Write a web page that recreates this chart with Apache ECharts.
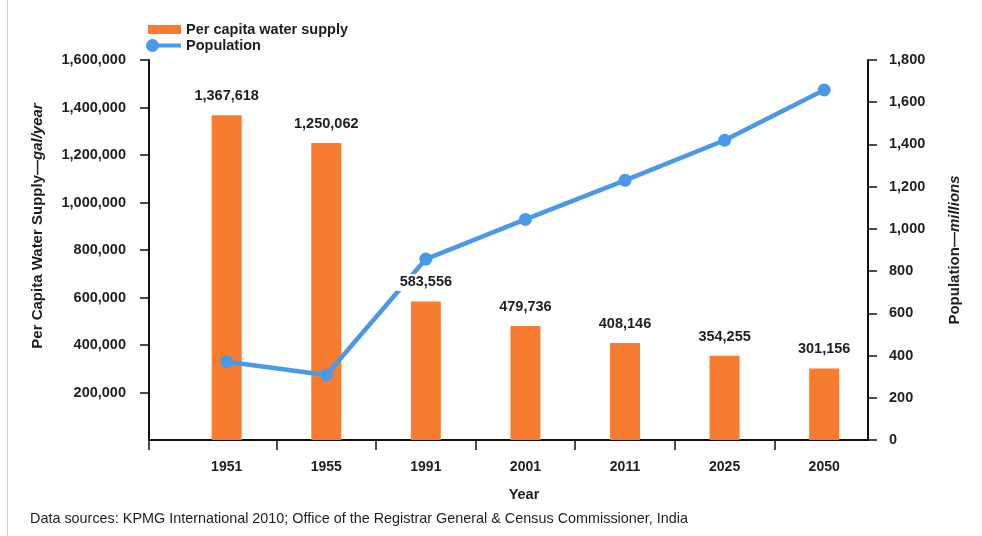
<!DOCTYPE html>
<html>
<head>
<meta charset="utf-8">
<script src="https://cdn.jsdelivr.net/npm/echarts@6/dist/echarts.min.js"></script>
<style>
  html, body { margin: 0; padding: 0; background: #fff; }
  #chart { position: absolute; left: 0; top: 0; width: 982px; height: 536px; }
  #edge { position: absolute; left: 7px; top: 0; width: 1px; height: 536px; background: #cfcfcf; }
</style>
</head>
<body>
<div id="chart"></div>
<div id="edge"></div>
<script>
// ---- data ----
const years = ['1951', '1955', '1991', '2001', '2011', '2025', '2050'];
const waterSupply = [1367618, 1250062, 583556, 479736, 408146, 354255, 301156]; // gal/year per capita
const population = [371, 308, 857, 1045, 1230, 1420, 1658]; // millions
const leftAxisMax = 1600000;
const leftAxisStep = 200000;
const rightAxisMax = 1800;
const rightAxisStep = 200;
const seriesNames = ['Per capita water supply', 'Population'];
const sourceNote = 'Data sources: KPMG International 2010; Office of the Registrar General & Census Commissioner, India';

// ---- presentation ----
const FONT = '"Liberation Sans", Arial, Helvetica, sans-serif';
const ORANGE = '#F77C2F';
const BLUE = '#4A98E8';
const TEXT = '#1e1e1e';
const AXIS = '#111';
const xMin = -0.78, xMax = 6.44;

const fmt = v => Number(v).toLocaleString('en-US');
const catIdx = years.map((_, i) => i);
const tickVals = [xMin].concat(years.slice(1).map((_, i) => i + 0.5));

const chart = echarts.init(document.getElementById('chart'), null, { renderer: 'canvas' });

const boldText = { fontFamily: FONT, fontWeight: 'bold', fontSize: 14.5, color: TEXT };
const titleRich = {
  a: { fontFamily: FONT, fontWeight: 'bold', fontSize: 15, color: TEXT },
  b: { fontFamily: FONT, fontWeight: 'bold', fontStyle: 'italic', fontSize: 15, color: TEXT }
};

const option = {
  animation: false,
  backgroundColor: '#fff',
  textStyle: { fontFamily: FONT },
  grid: { left: 149, right: 114, top: 60, bottom: 96, containLabel: false },
  title: {
    text: sourceNote,
    left: 30, top: 512, padding: 0,
    textStyle: { fontFamily: FONT, fontSize: 14.4, fontWeight: 'normal', color: TEXT }
  },
  legend: [
    {
      data: [{ name: seriesNames[0], icon: 'rect' }],
      left: 148, top: 22, padding: 0,
      itemWidth: 33, itemHeight: 9,
      textStyle: boldText,
      selectedMode: false
    },
    {
      data: [{ name: seriesNames[1], icon: 'path://M0,6.5A6.5,6.5,0,1,1,13,6.5A6.5,6.5,0,1,1,0,6.5Z M12,4.5L35,4.5L35,8.5L12,8.5Z' }],
      left: 146, top: 38, padding: 0,
      itemWidth: 35, itemHeight: 13,
      itemStyle: { borderWidth: 0 },
      textStyle: boldText,
      selectedMode: false
    }
  ],
  xAxis: {
    type: 'value',
    min: xMin, max: xMax,
    name: 'Year',
    nameLocation: 'middle',
    nameGap: 47,
    nameTextStyle: Object.assign({}, boldText, { padding: [0, 0, 0, 31] }),
    axisLine: { show: true, onZero: false, lineStyle: { color: AXIS, width: 2 } },
    axisTick: { show: true, customValues: tickVals, length: 10, lineStyle: { color: AXIS, width: 1.5 } },
    axisLabel: {
      customValues: catIdx,
      formatter: v => years[Math.round(v)],
      margin: 20,
      fontFamily: FONT, fontWeight: 'bold', fontSize: 14, color: TEXT
    },
    splitLine: { show: false }
  },
  yAxis: [
    {
      type: 'value', position: 'left',
      min: 0, max: leftAxisMax, interval: leftAxisStep,
      name: '{a|Per Capita Water Supply\u2014}{b|gal/year}',
      nameLocation: 'middle', nameRotate: 90, nameGap: 104,
      nameTextStyle: { padding: [0, 0, 0, 48], rich: titleRich },
      axisLine: { show: true, onZero: false, lineStyle: { color: AXIS, width: 2 } },
      axisTick: { show: true, length: 9, lineStyle: { color: AXIS, width: 1.5 } },
      axisLabel: {
        showMinLabel: false, margin: 23, formatter: fmt,
        fontFamily: FONT, fontWeight: 'bold', fontSize: 14.5, color: TEXT
      },
      splitLine: { show: false }
    },
    {
      type: 'value', position: 'right',
      min: 0, max: rightAxisMax, interval: rightAxisStep,
      name: '{a|Population\u2014}{b|millions}',
      nameLocation: 'middle', nameRotate: 90, nameGap: 79,
      nameTextStyle: { rich: titleRich },
      axisLine: { show: true, onZero: false, lineStyle: { color: AXIS, width: 2 } },
      axisTick: { show: true, length: 9, lineStyle: { color: AXIS, width: 1.5 } },
      axisLabel: {
        margin: 21, formatter: fmt,
        fontFamily: FONT, fontWeight: 'bold', fontSize: 14.5, color: TEXT
      },
      splitLine: { show: false }
    }
  ],
  series: [
    {
      name: seriesNames[0],
      type: 'bar',
      yAxisIndex: 0,
      barWidth: 30,
      data: waterSupply.map((v, i) => [i, v]),
      itemStyle: { color: ORANGE },
      z: 2
    },
    {
      name: seriesNames[1],
      type: 'line',
      yAxisIndex: 1,
      data: population.map((v, i) => [i, v]),
      symbol: 'circle', symbolSize: 13,
      lineStyle: { color: BLUE, width: 4.5 },
      itemStyle: { color: BLUE },
      label: { show: false },
      z: 3
    },
    {
      // value labels of the bars, drawn above the population line
      name: 'supplyLabels',
      type: 'scatter',
      yAxisIndex: 0,
      silent: true,
      data: waterSupply.map((v, i) => [i, v]),
      symbol: 'rect', symbolSize: 1,
      itemStyle: { color: 'rgba(0,0,0,0)', opacity: 1 },
      z: 10,
      label: {
        show: true, position: 'top', distance: 10,
        formatter: p => fmt(p.value[1]),
        fontFamily: FONT, fontWeight: 'bold', fontSize: 14.5, color: TEXT,
        backgroundColor: '#fff', padding: [1, 3], opacity: 1
      }
    }
  ]
};

chart.setOption(option);
</script>
</body>
</html>
